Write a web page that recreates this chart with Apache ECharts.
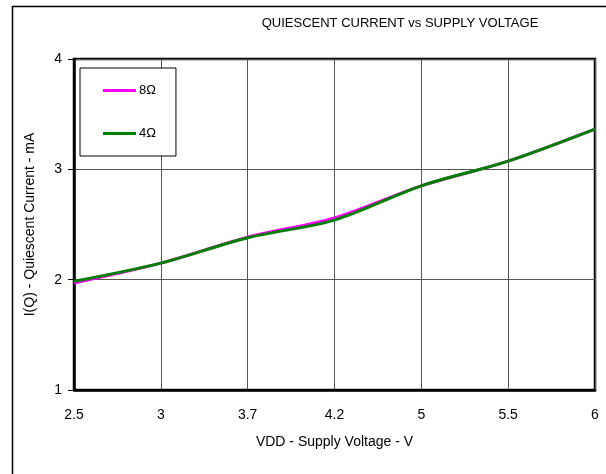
<!DOCTYPE html>
<html>
<head>
<meta charset="utf-8">
<script src="https://cdn.jsdelivr.net/npm/echarts@6/dist/echarts.min.js"></script>
<style>
	html, body { margin: 0; padding: 0; background: #fff; }
	#chart { width: 606px; height: 474px; }
</style>
</head>
<body>
<div id="chart"></div>
<script>
// supply voltage categories (evenly spaced on the original plot)
var voltages = ['2.5', '3', '3.7', '4.2', '5', '5.5', '6'];

// quiescent current, mA
var current8ohm = [1.97, 2.15, 2.385, 2.56, 2.85, 3.075, 3.365];
var current4ohm = [1.985, 2.15, 2.38, 2.54, 2.85, 3.075, 3.365];

var seriesNames = ['8Ω', '4Ω'];
var seriesColors = ['#ff00ff', '#008000'];

var font = 'Liberation Sans, Arial, sans-serif';

var myChart = echarts.init(document.getElementById('chart'), null, {
	renderer: 'canvas'
});

var option = {
	backgroundColor: '#fff',
	animation: false,
	title: {
		text: 'QUIESCENT CURRENT vs SUPPLY VOLTAGE',
		left: 395,
		top: 12,
		textAlign: 'center',
		textStyle: {
			fontFamily: font,
			fontSize: 13,
			fontWeight: 'normal',
			color: '#000'
		}
	},
	legend: {
		left: 80,
		top: 68,
		orient: 'vertical',
		data: seriesNames,
		icon: 'rect',
		itemWidth: 33,
		itemHeight: 3,
		itemGap: 30,
		padding: [16, 20, 16, 23],
		backgroundColor: '#fff',
		borderColor: '#000',
		borderWidth: 1,
		textStyle: {
			fontFamily: font,
			fontSize: 13,
			color: '#000',
			padding: [0, 0, 0, -2]
		}
	},
	grid: {
		left: 74,
		top: 59,
		right: 11,
		bottom: 84,
		show: true,
		borderColor: '#000',
		borderWidth: 2.5,
		containLabel: false
	},
	xAxis: {
		type: 'category',
		data: voltages,
		boundaryGap: false,
		name: 'VDD - Supply Voltage - V',
		nameLocation: 'middle',
		nameGap: 45,
		nameTextStyle: {
			fontFamily: font,
			fontSize: 14,
			color: '#000'
		},
		axisLine: { show: true, lineStyle: { color: '#000', width: 2.5 } },
		axisTick: { show: false },
		axisLabel: {
			margin: 18,
			fontFamily: font,
			fontSize: 14,
			color: '#000'
		},
		splitLine: {
			show: true,
			lineStyle: { color: '#555', width: 1 }
		}
	},
	yAxis: {
		type: 'value',
		min: 1,
		max: 4,
		interval: 1,
		name: 'I(Q) - Quiescent Current - mA',
		nameLocation: 'middle',
		nameGap: 37,
		nameTextStyle: {
			fontFamily: font,
			fontSize: 14,
			color: '#000'
		},
		axisLine: { show: true, lineStyle: { color: '#000', width: 2.5 } },
		axisTick: {
			show: true,
			length: 6,
			lineStyle: { color: '#000', width: 1 }
		},
		axisLabel: {
			margin: 12,
			fontFamily: font,
			fontSize: 14,
			color: '#000'
		},
		splitLine: {
			show: true,
			lineStyle: { color: '#555', width: 1 }
		}
	},
	graphic: [
		{
			type: 'rect',
			left: 10,
			top: 4,
			shape: { width: 620, height: 500 },
			style: { fill: 'none', stroke: '#000', lineWidth: 1.5 },
			z: -1
		}
	],
	series: [
		{
			name: seriesNames[0],
			type: 'line',
			data: current8ohm,
			smooth: 0.3,
			showSymbol: false,
			color: seriesColors[0],
			lineStyle: { width: 3, color: seriesColors[0] },
			z: 2
		},
		{
			name: seriesNames[1],
			type: 'line',
			data: current4ohm,
			smooth: 0.3,
			showSymbol: false,
			color: seriesColors[1],
			lineStyle: { width: 3, color: seriesColors[1] },
			z: 3
		}
	]
};

myChart.setOption(option);
</script>
</body>
</html>
